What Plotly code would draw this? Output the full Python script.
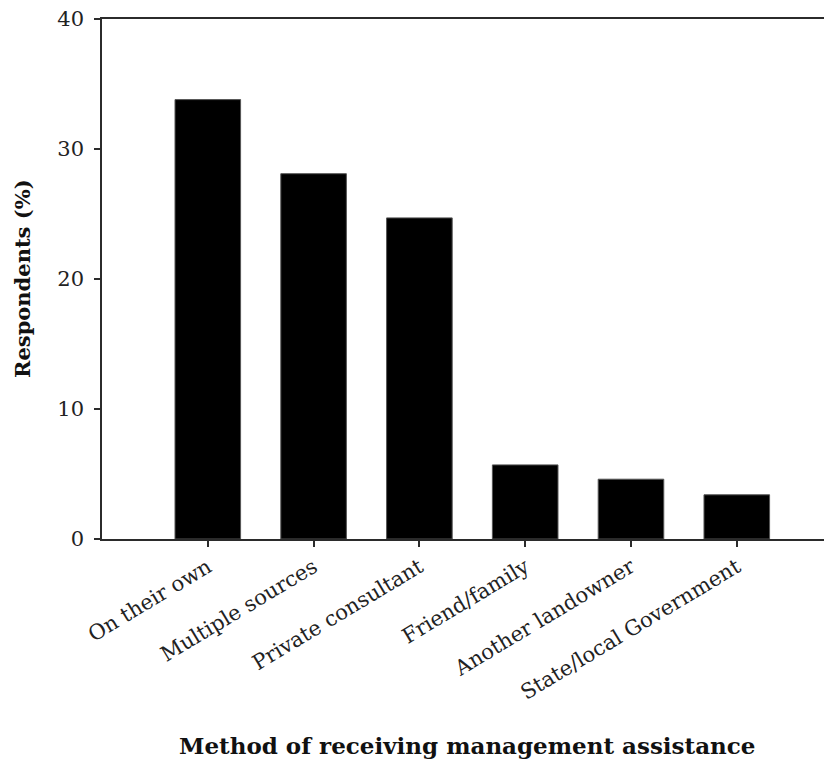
import plotly.graph_objects as go

categories = ["On their own", "Multiple sources", "Private consultant",
              "Friend/family", "Another landowner", "State/local Government"]
respondents_pct = [33.8, 28.1, 24.7, 5.7, 4.6, 3.4]
y_ticks = [0, 10, 20, 30, 40]

FONT = "DejaVu Serif"
LINE = "#2b2b2b"

fig = go.Figure(go.Bar(
    x=list(range(len(categories))),
    y=respondents_pct,
    width=0.62,
    marker=dict(color="black", line=dict(color="#555555", width=1)),
))

fig.update_layout(
    width=832, height=770,
    margin=dict(l=94, r=8, t=11, b=239),
    plot_bgcolor="white", paper_bgcolor="white",
    showlegend=False,
    font=dict(family=FONT, color="#222222"),
    xaxis=dict(
        range=[-1.0, 5.9],
        tickmode="array", tickvals=list(range(len(categories))), ticktext=categories,
        tickangle=-31, tickfont=dict(size=21, family=FONT, color="#222222"),
        ticks="outside", ticklen=6, tickcolor=LINE, tickwidth=1.5,
        showline=True, linecolor=LINE, linewidth=1.5, mirror=True,
        showgrid=False, zeroline=False, automargin=False,
    ),
    yaxis=dict(
        range=[0, 40],
        tickmode="array", tickvals=y_ticks,
        tickfont=dict(size=21, family=FONT, color="#222222"),
        ticks="outside", ticklen=6, tickcolor=LINE, tickwidth=1.5,
        showline=True, linecolor=LINE, linewidth=1.5,
        showgrid=False, zeroline=False, automargin=False,
        ticklabeloverflow="allow", ticklabelstandoff=6,
    ),
    annotations=[
        dict(text="<b>Respondents (%)</b>", xref="paper", yref="paper",
             x=0, y=0.5, xshift=-80, textangle=-90, showarrow=False,
             xanchor="center", yanchor="middle",
             font=dict(size=21, family=FONT, color="#111111")),
        dict(text="<b>Method of receiving management assistance</b>",
             xref="paper", yref="paper", x=0.5, y=0, yshift=-191,
             showarrow=False, xanchor="center", yanchor="top",
             font=dict(size=23, family=FONT, color="#111111")),
    ],
)

fig.write_html("out.html")
